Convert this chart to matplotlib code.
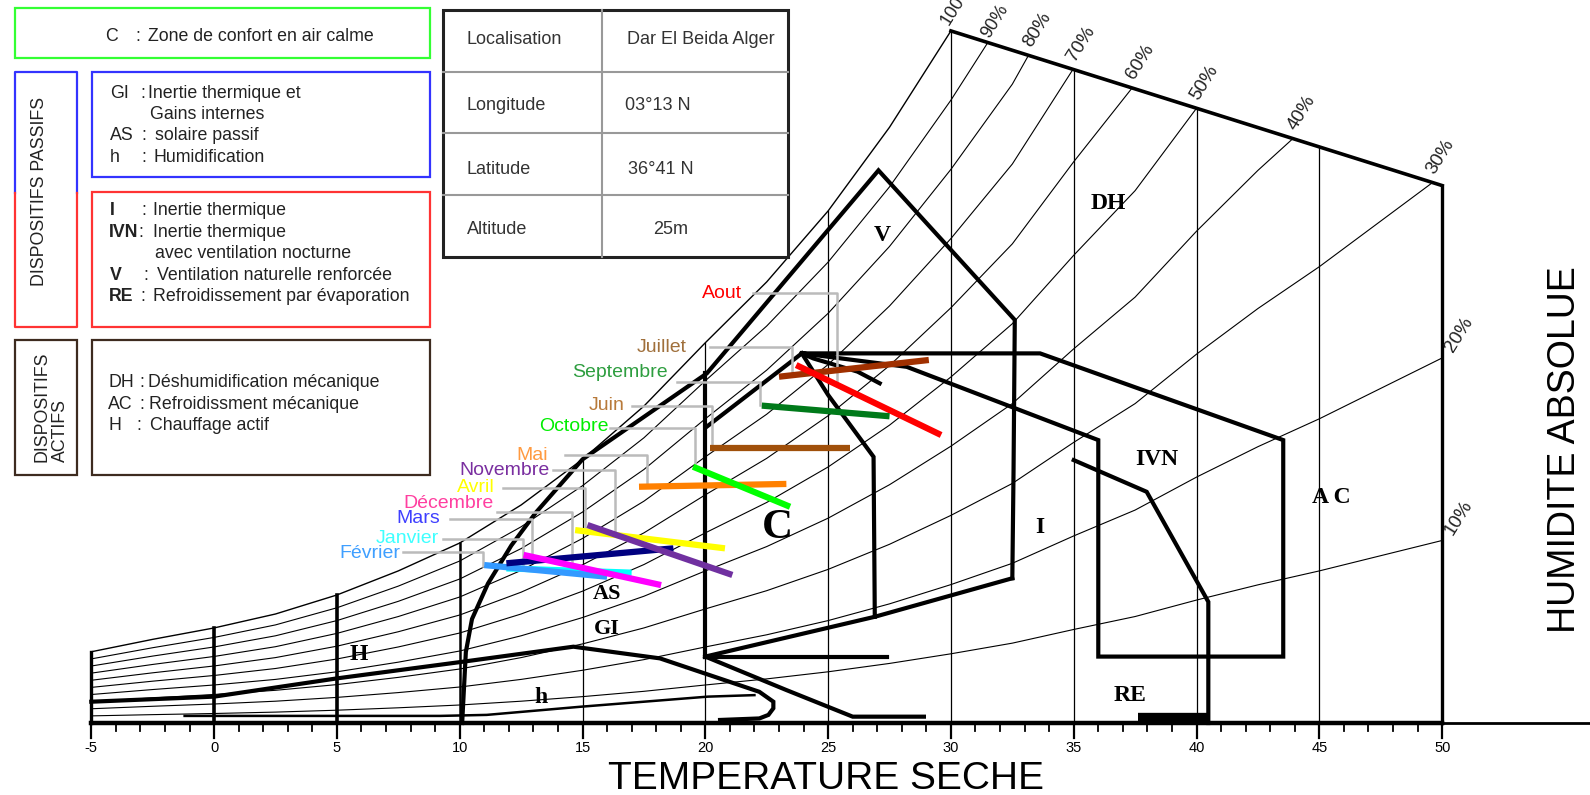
import numpy as np
import matplotlib
matplotlib.use("Agg")
import matplotlib.pyplot as plt
from matplotlib.lines import Line2D
from matplotlib.patches import Polygon, Rectangle

# --- chart frame: dry temperature (degC) / absolute humidity (g/kg)
temps = [-5, -2.5, 0, 2.5, 5, 7.5, 10, 12.5, 15, 17.5, 20, 22.5, 25, 27.5, 30,
         32.5, 35, 37.5, 40, 42.5, 45, 47.5, 50]
w_sat = [2.81, 3.3, 3.75, 4.3, 5.05, 6.0, 7.1, 8.6, 10.4, 12.5, 15.0, 17.4, 20.2,
         23.5, 27.3, 31.5, 36.9, 42.0, 48.5, 54.5, 60.0, 66.0, 72.0]
rh_levels = [90, 80, 70, 60, 50, 40, 30, 20, 10]
border_t = [30, 50]
border_w = [27.3, 21.2]
t_ticks = list(range(-5, 51, 5))

# --- monthly lines (Tmin -> Tmax)
months = ['Janvier', 'Février', 'Mars', 'Avril', 'Mai', 'Juin', 'Juillet', 'Aout',
          'Septembre', 'Octobre', 'Novembre', 'Décembre']
t_min = [11.9, 11.0, 11.9, 14.7, 17.3, 20.2, 23.0, 23.7, 22.3, 19.5, 15.2, 12.6]
t_max = [17.0, 16.0, 18.7, 20.8, 23.3, 25.9, 29.1, 29.6, 27.5, 23.45, 21.1, 18.2]
w_tmin = [6.10, 6.23, 6.30, 7.61, 9.32, 10.84, 13.66, 14.12, 12.52, 10.11, 7.81, 6.63]
w_tmax = [5.93, 5.77, 6.89, 6.89, 9.43, 10.84, 14.32, 11.36, 12.10, 8.53, 5.84, 5.44]

# --- zone outlines (Givoni)
gi_v_t = [10.1, 10.25, 10.5, 11.15, 12.1, 13.1, 15.0, 20.06, 27.05, 32.6, 32.55, 32.5]
gi_v_w = [0, 2.8, 4.1, 5.5, 7.0, 8.3, 10.4, 13.79, 21.8, 15.9, 10.0, 5.71]
c_left_t = [20.0, 20.0]
c_left_w = [2.62, 13.79]
c_top_t = [20.06, 23.93]
c_top_w = [11.69, 14.58]
c_right_t = [23.93, 25.0, 26.85, 26.9]
c_right_w = [14.58, 12.94, 10.5, 4.19]
c_bottom_t = [20.0, 26.9, 32.5]
c_bottom_w = [2.62, 4.19, 5.71]
c_base_t = [20.0, 27.4]
c_base_w = [2.62, 2.62]
ivn_t = [23.93, 28.2, 36.0, 36.0, 43.53, 43.53, 33.63, 23.93]
ivn_w = [14.58, 14.05, 11.16, 2.62, 2.62, 11.16, 14.58, 14.58]
arc_t = [23.93, 24.4, 26.2, 27.1]
arc_w = [14.58, 14.38, 13.86, 13.4]
re_t = [35.0, 37.97, 40.48, 40.48]
re_w = [10.37, 9.12, 4.78, 0.0]
re_bar_t = [37.6, 40.5]
re_bar_w = [0.22, 0.22]
h_diag_t = [20.0, 23.3, 26.0, 28.9]
h_diag_w = [2.62, 1.30, 0.25, 0.25]
h_top_t = [-5, 0, 5, 10.15, 14.63, 18.15, 22.2, 22.77, 22.77, 22.57, 22.2, 20.6]
h_top_w = [0.84, 1.04, 1.76, 2.42, 3.01, 2.55, 1.23, 0.84, 0.58, 0.32, 0.18, 0.12]
h_low_t = [-1.2, 9.2, 11.1, 14.9, 20.1, 22.0]
h_low_w = [0.28, 0.28, 0.32, 0.64, 1.04, 1.1]

zone_names = ['DH', 'V', 'C', 'I', 'IVN', 'A C', 'RE', 'AS', 'GI', 'H', 'h']

plt.rcParams['font.family'] = ['Liberation Sans', 'DejaVu Sans']
SERIF = ['Liberation Serif', 'DejaVu Serif']

fig = plt.figure(figsize=(15.9, 7.95), dpi=100)
ax = fig.add_axes([0, 0, 1, 1])
ax.set_xlim(-8.717, 56.02)
ax.set_ylim(-2.84, 28.52)
ax.axis('off')


def F(x, y):
  # pixel position -> figure fraction
  return x / 1590.0, 1 - y / 795.0


# ---------------- psychrometric frame
n_sat = temps.index(30) + 1
frame = list(zip(temps[:n_sat], w_sat[:n_sat])) + [(border_t[1], border_w[1]), (50, 0), (-5, 0)]
clip = Polygon(frame, closed=True, transform=ax.transData)

for rh in rh_levels:
  ln, = ax.plot(temps, [rh / 100.0 * s for s in w_sat], color='k', lw=0.8, zorder=1)
  ln.set_clip_path(clip)

ax.plot(temps[:n_sat], w_sat[:n_sat], color='k', lw=1.0, zorder=1)
ax.plot(border_t, border_w, color='k', lw=2.6, zorder=2)

# vertical grid lines up to the frame top
thick = {-5: 2.4, 0: 2.6, 5: 2.6, 10: 1.8, 50: 2.4}
for t in t_ticks:
  if t <= 30:
    top = w_sat[temps.index(t)]
  else:
    top = np.interp(t, border_t, border_w)
  ax.plot([t, t], [0, top], color='k', lw=thick.get(t, 0.9), zorder=1)

# baseline and ticks
ax.plot([-5, 50], [0, 0], color='k', lw=3.2, zorder=3)
ax.plot([50, 56.1], [0, 0], color='k', lw=2.0, zorder=3)
for t in range(-5, 51):
  ln = 0.6 if t % 5 == 0 else 0.32
  ax.plot([t, t], [0, -ln], color='k', lw=1.6 if t % 5 == 0 else 1.3, zorder=3)
for t in t_ticks:
  ax.text(t, -1.0, str(t), ha='center', va='center', fontsize=10.5)

# RH labels at the end of each curve
tg = np.linspace(30, 50, 2001)
bw = np.interp(tg, border_t, border_w)
ax.annotate('100%', (30, w_sat[n_sat - 1]), xytext=(1, 2), textcoords='offset points',
            rotation=58, rotation_mode='anchor', ha='left', va='bottom', fontsize=13,
            color='#222222')
for rh in rh_levels:
  cw = np.interp(tg, temps, [rh / 100.0 * s for s in w_sat])
  hit = np.nonzero(cw >= bw)[0]
  if len(hit):
    pt = (tg[hit[0]], bw[hit[0]])
    off = (3, 1) if rh == 90 else (4, 4)
  else:
    pt = (50, cw[-1])
    off = (10, 2)
  ax.annotate('%d%%' % rh, pt, xytext=off, textcoords='offset points',
              rotation=58, rotation_mode='anchor', ha='left', va='bottom',
              fontsize=13 if rh == 90 else 13.5, color='#222222')

# ---------------- zones
zone_lw = 3.0
for xs, ys in [(gi_v_t, gi_v_w), (c_left_t, c_left_w), (c_top_t, c_top_w),
               (c_right_t, c_right_w), (c_bottom_t, c_bottom_w), (c_base_t, c_base_w),
               (ivn_t, ivn_w), (arc_t, arc_w), (re_t, re_w), (h_diag_t, h_diag_w),
               (h_top_t, h_top_w)]:
  ax.plot(xs, ys, color='k', lw=zone_lw, solid_joinstyle='miter', zorder=2)
ax.plot(re_bar_t, re_bar_w, color='k', lw=6, solid_capstyle='butt', zorder=2)
ax.plot(h_low_t, h_low_w, color='k', lw=1.8, zorder=2)

zone_pos = [(36.4, 20.5), (27.2, 19.25), (22.95, 7.7), (33.6, 7.7), (38.4, 10.4),
            (45.5, 8.9), (37.3, 1.07), (16.0, 5.1), (16.0, 3.7), (5.9, 2.7), (13.3, 1.0)]
zone_size = [17, 17, 31, 17, 17, 17, 17, 16, 16, 17, 17]
for name, (t, w), fs in zip(zone_names, zone_pos, zone_size):
  ax.text(t, w, name, ha='center', va='center', fontsize=fs, fontweight='bold',
          family=SERIF, zorder=4)

# ---------------- months
line_colors = ['#00FFFF', '#3399FF', '#000080', '#FFFF00', '#FF8000', '#A0500A',
               '#A03000', '#FF0000', '#007A1A', '#00FF00', '#7030A0', '#FF00FF']
label_colors = ['#3FFFFF', '#3F9FFF', '#3F3FFF', '#FFFF00', '#FF9A40', '#B87A3A',
                '#A0703C', '#FF0000', '#2E9E40', '#00EE00', '#7A2FA0', '#FF3FA0']
# label T, label w, leader w, leader start T, leader corner T, leader end w
leaders = [(9.17, 7.29, 7.25, 9.3, 12.59, 6.10),
           (7.57, 6.67, 6.76, 7.7, 10.96, 6.19),
           (9.2, 8.07, 8.04, 9.6, 12.93, 6.5),
           (11.44, 9.28, 9.26, 11.78, 15.1, 7.75),
           (13.61, 10.57, 10.57, 14.29, 17.61, 9.39),
           (16.73, 12.52, 12.52, 17.0, 20.26, 10.97),
           (19.24, 14.82, 14.82, 20.19, 23.52, 13.8),
           (21.48, 16.95, 16.95, 21.95, 25.35, 13.4),
           (18.49, 13.82, 13.46, 18.84, 22.23, 12.54),
           (16.05, 11.69, 11.63, 16.12, 19.58, 10.18),
           (13.68, 9.95, 9.98, 13.8, 16.32, 7.55),
           (11.37, 8.67, 8.34, 11.5, 14.56, 6.17)]

for i, m in enumerate(months):
  lt, lw_, yw, st, ct, ew = leaders[i]
  ax.plot([st, ct, ct], [yw, yw, ew], color='#BBBBBB', lw=1.8, zorder=3)
  ax.plot([t_min[i], t_max[i]], [w_tmin[i], w_tmax[i]], color=line_colors[i],
          lw=4.5, solid_capstyle='butt', zorder=4)
  ax.text(lt, lw_, m, ha='right', va='center', fontsize=14, color=label_colors[i], zorder=5)

# axis titles
ax.text(24.9, -2.2, 'TEMPERATURE SECHE', ha='center', va='center', fontsize=28)
ax.text(55.0, 10.8, 'HUMIDITE ABSOLUE', ha='center', va='center', fontsize=27,
        rotation=90)


# ---------------- legend boxes (figure pixels)
def box(x0, y0, x1, y1, color, lw=1.6):
  fx, fy = F(x0, y1)
  fig.add_artist(Rectangle((fx, fy), (x1 - x0) / 1590.0, (y1 - y0) / 795.0,
                           transform=fig.transFigure, fill=False, ec=color, lw=lw))


def seg(xs, ys, color, lw=1.6):
  pts = [F(x, y) for x, y in zip(xs, ys)]
  fig.add_artist(Line2D([p[0] for p in pts], [p[1] for p in pts],
                        transform=fig.transFigure, color=color, lw=lw))


def ftext(x, y, s, **kw):
  fx, fy = F(x, y)
  kw.setdefault('fontsize', 12.8)
  kw.setdefault('color', '#222222')
  kw.setdefault('va', 'center')
  fig.text(fx, fy, s, **kw)


box(15, 8.3, 430, 58.3, '#33FF33')
box(91.7, 71.7, 430, 176.7, '#3333FF')
box(91.7, 191.7, 430, 326.7, '#FF3333')
box(15, 340, 76.7, 475, '#3D2B1F')
box(91.7, 340, 430, 475, '#3D2B1F')
seg([15, 15, 76.7, 76.7], [192.7, 71.7, 71.7, 192.7], '#3333FF')
seg([15, 15, 76.7, 76.7], [192.7, 326.7, 326.7, 192.7], '#FF3333')

ftext(40, 191.5, 'DISPOSITIFS PASSIFS', rotation=90, ha='center')
ftext(51, 406.7, 'DISPOSITIFS\nACTIFS', rotation=90, ha='center', multialignment='left',
      linespacing=1.15)

rows = [('C', 105, 135, 147.7, 'Zone de confort en air calme', 36.7, False),
        ('GI', 110, 140, 147.7, 'Inertie thermique et', 93.3, False),
        ('', 110, None, 150, 'Gains internes', 114.3, False),
        ('AS', 110, 141.7, 155, 'solaire passif', 136, False),
        ('h', 110, 141.7, 153.3, 'Humidification', 157.3, False),
        ('I', 110, 141.7, 153.3, 'Inertie thermique', 210.7, True),
        ('IVN', 109.3, 138.3, 153.3, 'Inertie thermique', 232.3, True),
        ('', 110, None, 155, 'avec ventilation nocturne', 254, True),
        ('V', 110, 143.3, 157.3, 'Ventilation naturelle renforcée', 276, True),
        ('RE', 109.3, 140, 153.3, 'Refroidissement par évaporation', 296.7, True),
        ('DH', 108.3, 139.3, 147.7, 'Déshumidification mécanique', 382.7, False),
        ('AC', 108.3, 139.3, 149.3, 'Refroidissment mécanique', 404.3, False),
        ('H', 108.3, 136.7, 150, 'Chauffage actif', 425, False)]
for key, kx, cx, dx, desc, y, bold in rows:
  if key:
    ftext(kx, y, key, fontweight='bold' if bold else 'normal')
  if cx is not None:
    ftext(cx, y, ':')
  ftext(dx, y, desc)

# location table
box(443.3, 10, 788.3, 256.7, '#222222', lw=2.2)
seg([601.7, 601.7], [10, 256.7], '#999999', lw=1.5)
for y in [71.7, 133.3, 195]:
  seg([443.3, 788.3], [y, y], '#999999', lw=1.5)
table = [('Localisation', 'Dar El Beida Alger', 40, 626.7),
         ('Longitude', '03°13 N', 105, 625),
         ('Latitude', '36°41 N', 170, 628),
         ('Altitude', '25m', 229.3, 652.7)]
for a, b, y, bx in table:
  ftext(466.7, y, a, fontsize=13, color='#333333')
  ftext(bx, y, b, fontsize=13, color='#333333')

fig.savefig('out.png', dpi=100)
